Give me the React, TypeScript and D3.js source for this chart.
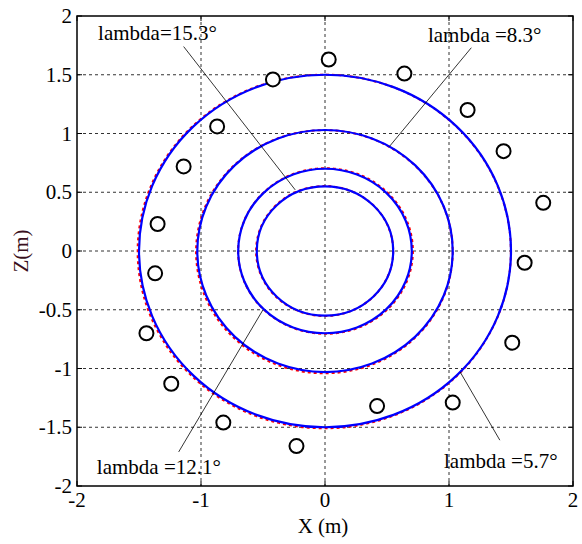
import React from "react";
import * as d3 from "d3";

// ring radii (m) for the four lambda cases
const ringRadii = [1.5, 1.03, 0.7, 0.55];
// reference (red dashed) rings, slightly off
const refRadii = [1.505, 1.035, 0.705, 0.553];
const refCenterX = [-0.006, -0.005, 0.004, -0.003];
const refCenterZ = [-0.004, -0.006, 0.0, 0.0];

// marker positions (m)
const markerX = [0.03, 0.64, 1.15, 1.44, 1.76, 1.61, 1.51, 1.03, 0.42, -0.23, -0.82, -1.24, -1.44, -1.37, -1.35, -1.14, -0.87, -0.42];
const markerZ = [1.63, 1.51, 1.2, 0.85, 0.41, -0.1, -0.78, -1.29, -1.32, -1.66, -1.46, -1.13, -0.7, -0.19, 0.23, 0.72, 1.06, 1.46];

const xTicks = [-2, -1, 0, 1, 2];
const yTicks = [-2, -1.5, -1, -0.5, 0, 0.5, 1, 1.5, 2];

// annotation labels: text, text position (m), line start (m), line end (m)
const labels = ["lambda=15.3°", "lambda =8.3°", "lambda =12.1°", "lambda =5.7°"];
const labelX = [-1.83, 0.83, -1.84, 0.96];
const labelZ = [1.8, 1.78, -1.9, -1.85];
const lineStart = [[-1.14, 1.74], [1.18, 1.73], [-1.18, -1.71], [1.41, -1.61]];
const lineEnd = [[-0.24, 0.52], [0.52, 0.89], [-0.5, -0.5], [1.09, -1.03]];

const W = 582;
const H = 544;
const left = 77, right = 573, top = 16, bottom = 486;
const font = "'Liberation Serif', 'DejaVu Serif', serif";

export default function App() {
  const x = d3.scaleLinear().domain([-2, 2]).range([left, right]);
  const y = d3.scaleLinear().domain([-2, 2]).range([bottom, top]);
  const fmt = (d: number) => String(d);

  return (
    <div style={{ position: "absolute", left: 0, top: 0 }}>
      <svg width={W} height={H} style={{ display: "block", background: "#fff" }}>
        {/* grid */}
        <g stroke="#333" strokeWidth={1} strokeDasharray="3,3">
          {xTicks.slice(1, -1).map((t) => (
            <line key={"gx" + t} x1={x(t)} x2={x(t)} y1={top} y2={bottom} />
          ))}
          {yTicks.slice(1, -1).map((t) => (
            <line key={"gy" + t} x1={left} x2={right} y1={y(t)} y2={y(t)} />
          ))}
        </g>

        {/* reference rings (red dashed) */}
        {refRadii.map((r, i) => (
          <ellipse
            key={"rr" + i}
            cx={x(refCenterX[i])}
            cy={y(refCenterZ[i])}
            rx={x(r) - x(0)}
            ry={y(0) - y(r)}
            fill="none"
            stroke="#ff0000"
            strokeWidth={2}
            strokeDasharray="3,3"
          />
        ))}
        {/* computed rings (blue) */}
        {ringRadii.map((r, i) => (
          <ellipse
            key={"br" + i}
            cx={x(0)}
            cy={y(0)}
            rx={x(r) - x(0)}
            ry={y(0) - y(r)}
            fill="none"
            stroke="#0000ff"
            strokeWidth={2.2}
          />
        ))}

        {/* markers */}
        {markerX.map((mx, i) => (
          <circle key={"m" + i} cx={x(mx)} cy={y(markerZ[i])} r={7} fill="#fff" stroke="#000" strokeWidth={2} />
        ))}

        {/* annotation lines */}
        {lineStart.map((s, i) => (
          <line
            key={"al" + i}
            x1={x(s[0])}
            y1={y(s[1])}
            x2={x(lineEnd[i][0])}
            y2={y(lineEnd[i][1])}
            stroke="#000"
            strokeWidth={0.8}
          />
        ))}
        {labels.map((t, i) => (
          <text key={"lb" + i} x={x(labelX[i])} y={y(labelZ[i])} fontFamily={font} fontSize={21} fill="#000">
            {t}
          </text>
        ))}

        {/* axes box and ticks */}
        <rect x={left} y={top} width={right - left} height={bottom - top} fill="none" stroke="#000" strokeWidth={1.5} />
        <g stroke="#000" strokeWidth={1}>
          {xTicks.map((t) => (
            <g key={"tx" + t}>
              <line x1={x(t)} x2={x(t)} y1={bottom} y2={bottom - 5} />
              <line x1={x(t)} x2={x(t)} y1={top} y2={top + 5} />
            </g>
          ))}
          {yTicks.map((t) => (
            <g key={"ty" + t}>
              <line x1={left} x2={left + 5} y1={y(t)} y2={y(t)} />
              <line x1={right} x2={right - 5} y1={y(t)} y2={y(t)} />
            </g>
          ))}
        </g>
        {xTicks.map((t) => (
          <text key={"lx" + t} x={x(t)} y={bottom + 21} textAnchor="middle" fontFamily={font} fontSize={21} fill="#000">
            {fmt(t)}
          </text>
        ))}
        {yTicks.map((t) => (
          <text key={"ly" + t} x={left - 5} y={y(t) + 7} textAnchor="end" fontFamily={font} fontSize={21} fill="#000">
            {fmt(t)}
          </text>
        ))}
        <text x={(left + right) / 2 - 2} y={533} textAnchor="middle" fontFamily={font} fontSize={21} fill="#000">
          X (m)
        </text>
        <text
          transform={`translate(28,${(top + bottom) / 2}) rotate(-90)`}
          textAnchor="middle"
          fontFamily={font}
          fontSize={21}
          fill="#3a1020"
        >
          Z(m)
        </text>
      </svg>
    </div>
  );
}
